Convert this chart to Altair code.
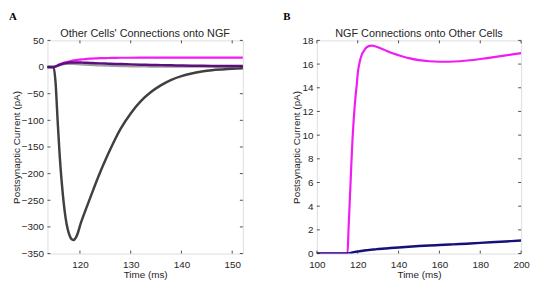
import altair as alt
import pandas as pd

# ---------------- Panel A data ----------------
tA = [112.8, 114.0, 114.8, 115.2, 115.6, 116.0, 116.4, 116.8, 117.2, 117.6,
      118.0, 118.3, 118.7, 119.2, 119.6, 120.0, 120.5, 121.0, 122.0, 123.0,
      124.0, 125.0, 126.0, 127.0, 128.0, 130.0, 132.0, 134.0, 136.0, 138.0,
      140.0, 142.0, 144.0, 146.0, 148.0, 150.0, 152.2]
a_dark = [0, 0, 0, -30, -100, -165, -215, -255, -285, -305,
          -317, -322.5, -324.5, -320, -311, -298, -284, -271, -246, -221,
          -197, -175, -154, -134, -116, -87, -64, -47, -34, -24,
          -17, -12, -8.5, -6, -4.5, -3.3, -2.5]
a_light = [0, 0, 0, 0.8, 2, 3.5, 4.6, 5.4, 5.9, 6.1,
           6.1, 6.0, 5.8, 5.6, 5.3, 5.0, 4.7, 4.4, 3.9, 3.4,
           3.0, 2.6, 2.3, 2.0, 1.8, 1.4, 1.1, 0.9, 0.8, 0.7,
           0.6, 0.5, 0.5, 0.4, 0.4, 0.4, 0.4]
a_purple = [0, 0, 0, 1.2, 2.8, 4.3, 5.6, 6.6, 7.4, 8.0,
            8.4, 8.6, 8.7, 8.7, 8.6, 8.5, 8.3, 8.1, 7.7, 7.3,
            6.9, 6.5, 6.2, 5.9, 5.6, 5.0, 4.5, 4.0, 3.6, 3.2,
            2.9, 2.6, 2.4, 2.2, 2.0, 1.9, 1.8]
a_magenta = [0, 0, 0, 1, 3, 5, 6.5, 8, 9, 10,
             11, 11.6, 12.4, 13.1, 13.6, 14, 14.5, 15, 15.7, 16.2,
             16.6, 16.9, 17.1, 17.3, 17.4, 17.5, 17.6, 17.6, 17.6, 17.6,
             17.6, 17.6, 17.6, 17.6, 17.6, 17.6, 17.6]

# ---------------- Panel B data ----------------
tB = [100, 115, 115.5, 116, 116.5, 117, 117.5, 118, 118.5, 119,
      119.5, 120, 121, 122, 123, 124, 125, 126, 127, 128,
      130, 133, 136, 140, 145, 150, 155, 160, 165, 170,
      175, 180, 185, 190, 195, 200]
b_magenta = [0, 0, 2, 4, 6, 8, 9.8, 11.2, 12.4, 13.4,
             14.2, 15.2, 16.2, 16.8, 17.1, 17.35, 17.48, 17.54, 17.56, 17.53,
             17.42, 17.2, 16.98, 16.75, 16.5, 16.33, 16.24, 16.2, 16.2, 16.24,
             16.32, 16.43, 16.55, 16.67, 16.8, 16.92]
b_navy = [0, 0, 0.01, 0.03, 0.05, 0.07, 0.09, 0.11, 0.13, 0.14,
          0.16, 0.17, 0.2, 0.22, 0.25, 0.27, 0.29, 0.31, 0.33, 0.35,
          0.38, 0.42, 0.46, 0.51, 0.57, 0.63, 0.68, 0.72, 0.76, 0.8,
          0.85, 0.9, 0.95, 1.0, 1.05, 1.1]

# ---------------- Axis ticks ----------------
xticksA = [120, 130, 140, 150]
yticksA = [50, 0, -50, -100, -150, -200, -250, -300, -350]
xticksB = [100, 120, 140, 160, 180, 200]
yticksB = [0, 2, 4, 6, 8, 10, 12, 14, 16, 18]

FONT = "Liberation Sans"
TXT = "#262626"
H = 216


def panel(t, series, xdom, ydom, xticks, yticks, title, letter, width, letter_x):
    xs = alt.Scale(domain=xdom, nice=False, zero=False)
    ys = alt.Scale(domain=ydom, nice=False, zero=False)
    xax = alt.Axis(values=xticks, title="Time (ms)", ticks=False, domain=False,
                   grid=False, labelFont=FONT, labelFontSize=10, labelColor=TXT,
                   labelPadding=6, labelFlush=False, titleFont=FONT,
                   titleFontSize=10, titleFontWeight="normal", titleColor=TXT,
                   titlePadding=0, format="d")
    yax = alt.Axis(values=yticks, title="Postsynaptic Current (pA)", ticks=False,
                   domain=False, grid=False, labelFont=FONT, labelFontSize=10,
                   labelColor=TXT, labelPadding=4, labelFlush=False,
                   titleFont=FONT, titleFontSize=10, titleFontWeight="normal",
                   titleColor=TXT, titlePadding=0, format="d")
    X = alt.X("t:Q", scale=xs, axis=xax)
    Y = alt.Y("v:Q", scale=ys, axis=yax)

    layers = []
    for vals, color, sw in series:
        df = pd.DataFrame({"t": t, "v": vals})
        layers.append(
            alt.Chart(df).mark_line(color=color, strokeWidth=sw,
                                    interpolate="monotone", clip=True)
            .encode(x=X, y=Y)
        )
    xt = pd.DataFrame({"t": xticks})
    yt = pd.DataFrame({"v": yticks})
    tick = dict(color=TXT, strokeWidth=0.8)
    layers += [
        alt.Chart(xt).mark_rule(**tick).encode(x=X, y=alt.value(H), y2=alt.value(H - 3)),
        alt.Chart(xt).mark_rule(**tick).encode(x=X, y=alt.value(0), y2=alt.value(3)),
        alt.Chart(yt).mark_rule(**tick).encode(y=Y, x=alt.value(0), x2=alt.value(3)),
        alt.Chart(yt).mark_rule(**tick).encode(y=Y, x=alt.value(width), x2=alt.value(width - 3)),
        alt.Chart(pd.DataFrame({"lab": [letter]})).mark_text(
            font="Liberation Serif", fontWeight="bold", fontSize=11,
            align="left", baseline="top", color="#000000"
        ).encode(text="lab:N", x=alt.value(letter_x), y=alt.value(-30)),
        alt.Chart(pd.DataFrame({"lab": [title]})).mark_text(
            font=FONT, fontSize=11, align="center", baseline="alphabetic",
            color=TXT
        ).encode(text="lab:N", x=alt.value(width / 2), y=alt.value(-3)),
    ]
    return alt.layer(*layers).properties(width=width, height=H)


pA = panel(tA,
           [(a_magenta, "#F21BF2", 2.2), (a_light, "#A0A0A0", 2.2),
            (a_dark, "#404040", 2.5), (a_purple, "#5E0F7E", 2.5)],
           [113.6, 152.1], [-350, 50], xticksA, yticksA,
           "Other Cells' Connections onto NGF", "A", 198, -39)
pB = panel(tB,
           [(b_magenta, "#F21BF2", 2.2), (b_navy, "#14127A", 2.5)],
           [100, 200], [0, 18], xticksB, yticksB,
           "NGF Connections onto Other Cells", "B", 207, -34)

chart = alt.hconcat(pA, pB, spacing=39).properties(padding=0).configure_view(
    stroke=TXT, strokeWidth=0.8
).configure(background="white")

chart.save("out.html", embed_options={"renderer": "svg", "actions": False})
